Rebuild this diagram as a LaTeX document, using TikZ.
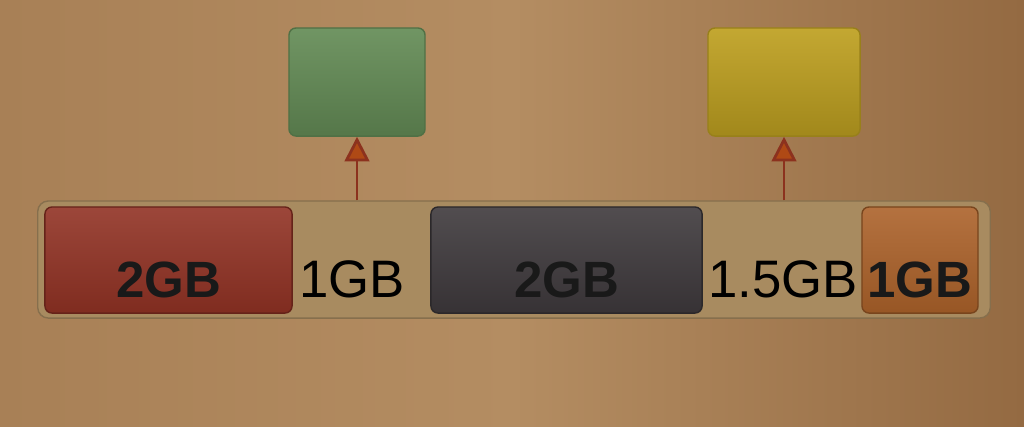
\documentclass[tikz,border=0pt]{standalone}
\usepackage{fontspec}
\setmainfont{Liberation Sans}
\usepackage{xcolor}
\usetikzlibrary{arrows.meta,positioning,calc}
\definecolor{bgtan}{RGB}{180,141,98}
\definecolor{bgdark}{RGB}{148,106,66}
\definecolor{bgedge}{RGB}{168,128,86}
\definecolor{bartan}{RGB}{168,139,96}
\definecolor{memred}{RGB}{145,50,36}
\definecolor{memdark}{RGB}{62,57,60}
\definecolor{memorange}{RGB}{172,98,42}
\definecolor{allocgreen}{RGB}{100,140,86}
\definecolor{allocyellow}{RGB}{190,160,32}
\definecolor{arrowred}{RGB}{140,50,30}

\begin{document}
\begin{tikzpicture}[
    x={(0.01cm,0)}, y={(0,-0.01cm)},
    memtext/.style={font=\fontsize{15}{15}\selectfont, text=black, inner sep=0pt, text height=0.9cm, text depth=0.16cm},
    memblock/.style={memtext, font=\fontsize{14.5}{15}\selectfont\bfseries, text=black!90, rectangle, rounded corners=2pt, minimum height=1.06cm, draw=#1!70!black, top color=#1!90!white, bottom color=#1!88!black},
    allocblock/.style={rectangle, rounded corners=2pt, minimum height=1.08cm, draw=#1!80!black, top color=#1!92!white, bottom color=#1!85!black},
    arrow/.style={-{Triangle[width=7pt,length=7pt,fill=arrowred!70!orange]}, thick, arrowred}
]

% Background
\shade[left color=bgedge, right color=bgdark, middle color=bgtan] (0,0) rectangle (1024,426);

% Memory bar
\node[rectangle, rounded corners=3pt, draw=bartan!80!black, fill=bartan, minimum width=9.52cm, minimum height=1.17cm, inner sep=0pt] (bar) at (514,259.5) {};

% Used blocks
\node[memblock=memred, minimum width=2.47cm] (used1) at (168.5,260) {2GB};
\node[memblock=memdark, minimum width=2.71cm] (used2) at (566.5,260) {2GB};
\node[memblock=memorange, minimum width=1.16cm] (used3) at (920,260) {1GB};

% Free gaps
\node[memtext] (free1) at (352,260) {1GB};
\node[memtext] (free2) at (783,260) {1.5GB};

% Allocations
\node[allocblock=allocgreen, minimum width=1.36cm] (alloc1) at (357,82) {};
\node[allocblock=allocyellow, minimum width=1.52cm] (alloc2) at (784,82) {};

% Arrows
\draw[arrow] (bar.north -| alloc1.south) -- (alloc1.south);
\draw[arrow] (bar.north -| alloc2.south) -- (alloc2.south);

\end{tikzpicture}
\end{document}
